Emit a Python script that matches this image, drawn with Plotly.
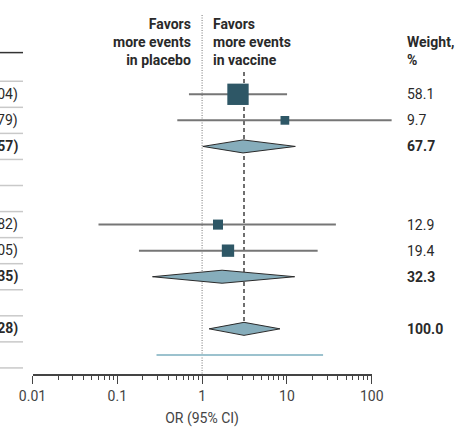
import numpy as np
import plotly.graph_objects as go

# ---- data -------------------------------------------------------------
# individual studies (row slot, odds ratio, 95% CI, weight %)
study_slot = [0, 1, 5, 6]
study_or = [2.65, 9.47, 1.54, 2.02]
study_lo = [0.70, 0.51, 0.06, 0.18]
study_hi = [10.04, 171.79, 37.82, 23.05]
study_wt = [58.1, 9.7, 12.9, 19.4]

# pooled estimates: two subgroups and the overall estimate
pooled_slot = [2, 7, 9]
pooled_or = [3.04, 1.72, 3.12]
pooled_lo = [1.02, 0.26, 1.21]
pooled_hi = [12.57, 12.35, 8.28]
pooled_wt = [67.7, 32.3, 100.0]

# prediction interval for the overall estimate
pi_slot = 10
pi_lo = 0.29
pi_hi = 26.7

tick_vals = [0.01, 0.1, 1, 10, 100]
tick_text = ["0.01", "0.1", "1", "10", "100"]

# ---- page geometry ----------------------------------------------------
W, H = 466, 435
AX_L, AX_R = 32.5, 371.7          # pixel span of the 0.01 .. 100 axis
AX_Y = 374                        # pixel row of the x axis line
ROW0, ROW_H = 94.3, 26.06         # pixel centre of slot 0 and row pitch

px_per_dec = (AX_R - AX_L) / 4.0
x2_range = [-2 - AX_L / px_per_dec, 2 + (W - AX_R) / px_per_dec]
y_top = (0 - ROW0) / ROW_H
y_bot = (AX_Y - ROW0) / ROW_H

FONT = "Roboto"
TXT = "#2a2a2a"
BOX = "#2e5766"
DIAMOND = "#86adbb"
CI_COL = "#767676"
PI_COL = "#9cc2ce"

fig = go.Figure()

# reference line at OR = 1
fig.add_trace(go.Scatter(x=[1, 1], y=[-3.04, y_bot], mode="lines",
                         line=dict(color="#8c8c8c", width=1.2, dash="1px,1.5px"),
                         xaxis="x", yaxis="y", hoverinfo="skip"))

# dashed line at the overall estimate
overall_or = pooled_or[-1]
fig.add_trace(go.Scatter(x=[overall_or, overall_or], y=[-0.86, pooled_slot[-1] - 0.25],
                         mode="lines", line=dict(color="#333333", width=1.4, dash="4px,3px"),
                         xaxis="x2", yaxis="y", hoverinfo="skip"))

# study confidence intervals
cx, cy = [], []
for s, lo, hi in zip(study_slot, study_lo, study_hi):
    cx += [lo, hi, None]
    cy += [s, s, None]
fig.add_trace(go.Scatter(x=cx, y=cy, mode="lines", line=dict(color=CI_COL, width=2),
                         xaxis="x2", yaxis="y", hoverinfo="skip"))

# prediction interval
fig.add_trace(go.Scatter(x=[pi_lo, pi_hi], y=[pi_slot, pi_slot], mode="lines",
                         line=dict(color=PI_COL, width=2),
                         xaxis="x2", yaxis="y", hoverinfo="skip"))

# study point estimates, square area proportional to weight
fig.add_trace(go.Scatter(x=study_or, y=study_slot, mode="markers",
                         marker=dict(symbol="square", color=BOX, opacity=1,
                                     size=[2.8 * np.sqrt(w) for w in study_wt],
                                     line=dict(width=0)),
                         xaxis="x2", yaxis="y", hoverinfo="skip"))

# pooled diamonds
dx, dy = [], []
for s, o, lo, hi in zip(pooled_slot, pooled_or, pooled_lo, pooled_hi):
    dx += [lo, o, hi, o, lo, None]
    dy += [s, s - 0.25, s, s + 0.25, s, None]
fig.add_trace(go.Scatter(x=dx, y=dy, mode="lines", fill="toself", fillcolor=DIAMOND,
                         line=dict(color="#2b2b2b", width=1),
                         xaxis="x2", yaxis="y", hoverinfo="skip"))

# ---- table text -------------------------------------------------------
ann = []
lab_x = 20 / W
wt_x = 405 / W


def ci_label(o, lo, hi):
    return f"{o:.2f} ({lo:.2f}-{hi:.2f})"


for s, o, lo, hi, w in zip(study_slot, study_or, study_lo, study_hi, study_wt):
    ann.append(dict(x=lab_x, y=s, xref="paper", yref="y", xanchor="right", yanchor="middle",
                    text=ci_label(o, lo, hi), showarrow=False))
    ann.append(dict(x=wt_x, y=s, xref="paper", yref="y", xanchor="left", yanchor="middle",
                    text=f"{w:.1f}", showarrow=False))
for s, o, lo, hi, w in zip(pooled_slot, pooled_or, pooled_lo, pooled_hi, pooled_wt):
    ann.append(dict(x=lab_x, y=s, xref="paper", yref="y", xanchor="right", yanchor="middle",
                    text="<b>" + ci_label(o, lo, hi) + "</b>", showarrow=False))
    ann.append(dict(x=wt_x, y=s, xref="paper", yref="y", xanchor="left", yanchor="middle",
                    text=f"<b>{w:.1f}</b>", showarrow=False))

# column headers either side of OR = 1 (annotation x on a log axis is log10)
ann.append(dict(x=0, y=-2.0, xref="x", yref="y", xanchor="right", yanchor="middle", xshift=-9,
                text="<b>Favors<br>more events<br>in placebo</b>", align="right", showarrow=False))
ann.append(dict(x=0, y=-2.0, xref="x", yref="y", xanchor="left", yanchor="middle", xshift=9,
                text="<b>Favors<br>more events<br>in vaccine</b>", align="left", showarrow=False))
ann.append(dict(x=wt_x, y=-1.65, xref="paper", yref="y", xanchor="left", yanchor="middle",
                text="<b>Weight,<br>%</b>", align="left", showarrow=False))

# table rules on the left edge
shapes = [dict(type="line", xref="paper", yref="y", x0=0, x1=23 / W, y0=-1.6, y1=-1.6,
               line=dict(color="#333333", width=1.5))]
for k in range(-1, 11):
    shapes.append(dict(type="line", xref="paper", yref="y", x0=0, x1=23 / W,
                       y0=k + 0.5, y1=k + 0.5, line=dict(color="#c9c9c9", width=1.5)))

minor_vals = [m * 10.0 ** e for e in range(-2, 2) for m in range(2, 10)]

fig.update_layout(
    width=W, height=H,
    margin=dict(l=0, r=0, t=0, b=H - AX_Y, autoexpand=False),
    paper_bgcolor="white", plot_bgcolor="rgba(0,0,0,0)",
    showlegend=False,
    font=dict(family=FONT, size=14, color=TXT),
    annotations=ann, shapes=shapes,
    xaxis=dict(type="log", domain=[AX_L / W, AX_R / W], range=[-2, 2], anchor="y",
               automargin=False,
               tickvals=tick_vals, ticktext=tick_text, ticks="outside", ticklen=8,
               tickwidth=1.2, tickcolor="#444444", showline=True, linecolor="#444444",
               linewidth=1.5, showgrid=False, zeroline=False,
               tickfont=dict(size=14, color="#444444"),
               minor=dict(tickvals=minor_vals, ticks="outside", ticklen=4, tickwidth=1,
                          tickcolor="#444444", showgrid=False),
               title=dict(text="OR (95% CI)", font=dict(size=14, color="#444444"), standoff=11)),
    xaxis2=dict(type="log", domain=[0, 1], range=x2_range, anchor="y", visible=False,
                showgrid=False, zeroline=False),
    yaxis=dict(range=[y_bot, y_top], anchor="x", visible=False, showgrid=False,
               zeroline=False, domain=[0, 1], automargin=False),
)

fig.write_html("out.html")
